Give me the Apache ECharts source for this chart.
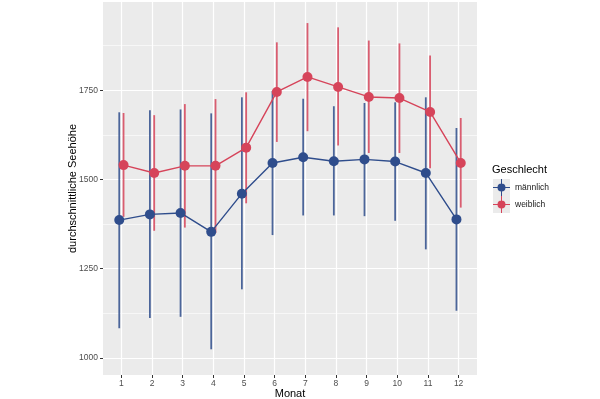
<!DOCTYPE html>
<html>
<head>
<meta charset="utf-8">
<script src="https://cdn.jsdelivr.net/npm/echarts@6/dist/echarts.min.js"></script>
<style>
  html, body { margin: 0; padding: 0; background: #fff; }
  #main { width: 600px; height: 399px; }
</style>
</head>
<body>
<div id="main"></div>
<script>
// Mittelwerte und Spannweiten je Monat
const months = [1, 2, 3, 4, 5, 6, 7, 8, 9, 10, 11, 12]
const maleMean = [1386, 1402, 1406, 1353, 1460, 1546, 1562, 1551, 1556, 1550, 1518, 1388]
const maleLow = [1083, 1112, 1115, 1024, 1192, 1344, 1399, 1399, 1397, 1384, 1304, 1132]
const maleHigh = [1688, 1694, 1696, 1685, 1730, 1748, 1726, 1705, 1714, 1716, 1730, 1644]
const femaleMean = [1540, 1518, 1538, 1538, 1589, 1745, 1787, 1759, 1731, 1728, 1689, 1546]
const femaleLow = [1395, 1356, 1365, 1350, 1433, 1605, 1635, 1595, 1574, 1574, 1531, 1421]
const femaleHigh = [1686, 1680, 1711, 1725, 1744, 1884, 1938, 1926, 1889, 1881, 1847, 1672]
const yTicks = [1000, 1250, 1500, 1750]
const yMinor = [1125, 1375, 1625, 1875]

const BLUE = '#2f4d8c'
const RED = '#d6445a'
const dodge = 0.07

function rangeSeries(name, low, high, dx, color) {
    return {
        name: name,
        type: 'custom',
        data: months.map((m, i) => [m + dx, low[i], high[i]]),
        encode: { x: 0, y: [1, 2] },
        itemStyle: { color: color },
        renderItem: (params, api) => {
            const a = api.coord([api.value(0), api.value(1)])
            const b = api.coord([api.value(0), api.value(2)])
            return {
                type: 'line',
                shape: { x1: a[0], y1: a[1], x2: b[0], y2: b[1] },
                style: { stroke: color, lineWidth: 1.8, opacity: 0.85 }
            }
        },
        silent: true,
        z: 2
    }
}

function meanSeries(name, mean, dx, color, z) {
    return {
        name: name,
        type: 'line',
        data: months.map((m, i) => [m + dx, mean[i]]),
        symbol: 'circle',
        symbolSize: 10,
        showSymbol: true,
        itemStyle: { color: color, opacity: 1 },
        lineStyle: { color: color, width: 1.4 },
        z: z
    }
}

const chart = echarts.init(document.getElementById('main'))
const crossIcon = 'path://M8,0h1v17h-1z M0,8h17v1h-17z M8.5,4.5a4,4 0 1,1 -0.01,0z'

chart.setOption({
    animation: false,
    textStyle: { fontFamily: 'Liberation Sans, Arial, sans-serif' },
    grid: {
        left: 103, right: 123, top: 2, bottom: 24,
        outerBoundsMode: 'none',
        show: true, backgroundColor: '#EBEBEB', borderWidth: 0
    },
    xAxis: {
        type: 'value',
        min: 0.4, max: 12.6,
        name: 'Monat',
        nameLocation: 'middle',
        nameGap: 13,
        nameMoveOverlap: false,
        nameTextStyle: { fontSize: 11, color: '#000' },
        axisLine: { show: false },
        axisTick: { show: true, customValues: months, length: 3, lineStyle: { color: '#333', width: 1 } },
        axisLabel: { customValues: months, fontSize: 8.5, color: '#4d4d4d', margin: 4 },
        splitLine: { show: true, lineStyle: { color: '#fff', width: 1.2 } }
    },
    yAxis: [
        {
            type: 'value',
            min: 952, max: 1997,
            name: 'durchschnittliche Seehöhe',
            nameLocation: 'middle',
            nameGap: 25,
            nameMoveOverlap: false,
            nameTextStyle: { fontSize: 11, color: '#000' },
            axisLine: { show: false },
            axisTick: { show: true, customValues: yTicks, length: 3, lineStyle: { color: '#333', width: 1 } },
            axisLabel: { customValues: yTicks, formatter: v => String(v), fontSize: 8.5, color: '#4d4d4d', margin: 5 },
            splitLine: { show: true, lineStyle: { color: '#fff', width: 1.2 } }
        },
        {
            type: 'value',
            min: 952, max: 1997,
            position: 'left',
            axisLine: { show: false },
            axisTick: { show: false, customValues: yMinor },
            axisLabel: { show: false, customValues: yMinor },
            splitLine: { show: true, lineStyle: { color: '#fff', width: 0.7, opacity: 0.85 } }
        }
    ],
    legend: {
        orient: 'vertical',
        left: 493, top: 179, padding: 0,
        itemWidth: 17, itemHeight: 17, itemGap: 0,
        icon: crossIcon,
        data: [
            { name: 'männlich', itemStyle: { color: BLUE } },
            { name: 'weiblich', itemStyle: { color: RED } }
        ],
        textStyle: { fontSize: 8.5, color: '#1a1a1a' }
    },
    graphic: [
        { type: 'text', left: 492, top: 164, style: { text: 'Geschlecht', fontSize: 11, fill: '#000', fontFamily: 'Liberation Sans' } },
        { type: 'rect', left: 493, top: 179, shape: { width: 17, height: 34 }, style: { fill: '#EBEBEB' }, z: -1 }
    ],
    series: [
        rangeSeries('männlich', maleLow, maleHigh, -dodge, BLUE),
        meanSeries('männlich', maleMean, -dodge, BLUE, 3),
        rangeSeries('weiblich', femaleLow, femaleHigh, dodge, RED),
        meanSeries('weiblich', femaleMean, dodge, RED, 4)
    ]
})
</script>
</body>
</html>
